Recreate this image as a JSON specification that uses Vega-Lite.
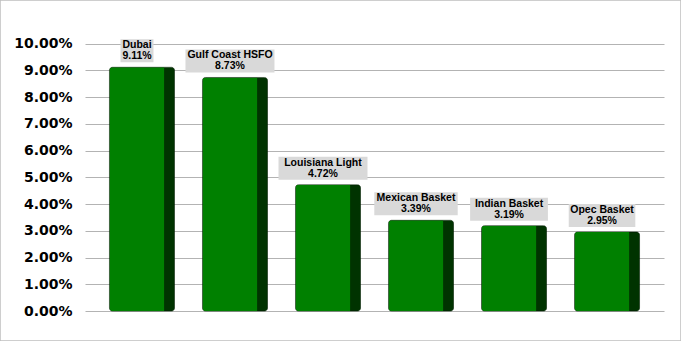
{
  "$schema": "https://vega.github.io/schema/vega-lite/v6.json",
  "width": 681,
  "height": 341,
  "autosize": {"type": "none"},
  "padding": 0,
  "background": "white",
  "config": {"view": {"stroke": "#bfbfbf", "strokeWidth": 1.5}},
  "data": {"values": [
    {"name": "Dubai", "pct": 0.0911},
    {"name": "Gulf Coast HSFO", "pct": 0.0873},
    {"name": "Louisiana Light", "pct": 0.0472},
    {"name": "Mexican Basket", "pct": 0.0339},
    {"name": "Indian Basket", "pct": 0.0319},
    {"name": "Opec Basket", "pct": 0.0295}
  ]},
  "transform": [
    {"calculate": "length(datum.name) * 5.6 + 5", "as": "boxw"}
  ],
  "encoding": {
    "x": {"field": "name", "type": "nominal", "sort": null,
      "scale": {"range": [85, 664], "paddingInner": 0.301, "paddingOuter": 0.263},
      "axis": null},
    "y": {"field": "pct", "type": "quantitative",
      "scale": {"domain": [0, 0.1], "range": [311, 43.5], "nice": false},
      "axis": {"orient": "left", "offset": -85, "values": [0, 0.01, 0.02, 0.03, 0.04, 0.05, 0.06, 0.07, 0.08, 0.09, 0.1],
        "format": ".2%", "domain": false, "ticks": false, "labelPadding": 13,
        "labelFont": "DejaVu Sans", "labelFontWeight": "bold", "labelFontSize": 14, "labelColor": "#000000",
        "grid": true, "gridColor": "#b3b3b3", "gridWidth": 1.2, "title": null}}
  },
  "layer": [
    {"mark": {"type": "bar", "color": "#003300", "stroke": "#002200", "strokeWidth": 0.6, "cornerRadius": 3}},
    {"mark": {"type": "bar", "color": "#008000", "width": 55, "xOffset": -5, "cornerRadiusTopLeft": 3, "cornerRadiusBottomLeft": 3}},
    {"mark": {"type": "bar", "color": "#d9d9d9", "xOffset": -5, "yOffset": -5, "y2Offset": -28},
      "encoding": {"y2": {"field": "pct"}, "size": {"field": "boxw", "type": "quantitative", "scale": null}}},
    {"mark": {"type": "text", "font": "Liberation Sans", "fontWeight": "bold", "fontSize": 10.5, "color": "#000000", "xOffset": -5, "yOffset": -22, "baseline": "middle"},
      "encoding": {"text": {"field": "name"}}},
    {"mark": {"type": "text", "font": "Liberation Sans", "fontWeight": "bold", "fontSize": 10.5, "color": "#000000", "xOffset": -5, "yOffset": -11, "baseline": "middle"},
      "encoding": {"text": {"field": "pct", "format": ".2%"}}}
  ]
}
